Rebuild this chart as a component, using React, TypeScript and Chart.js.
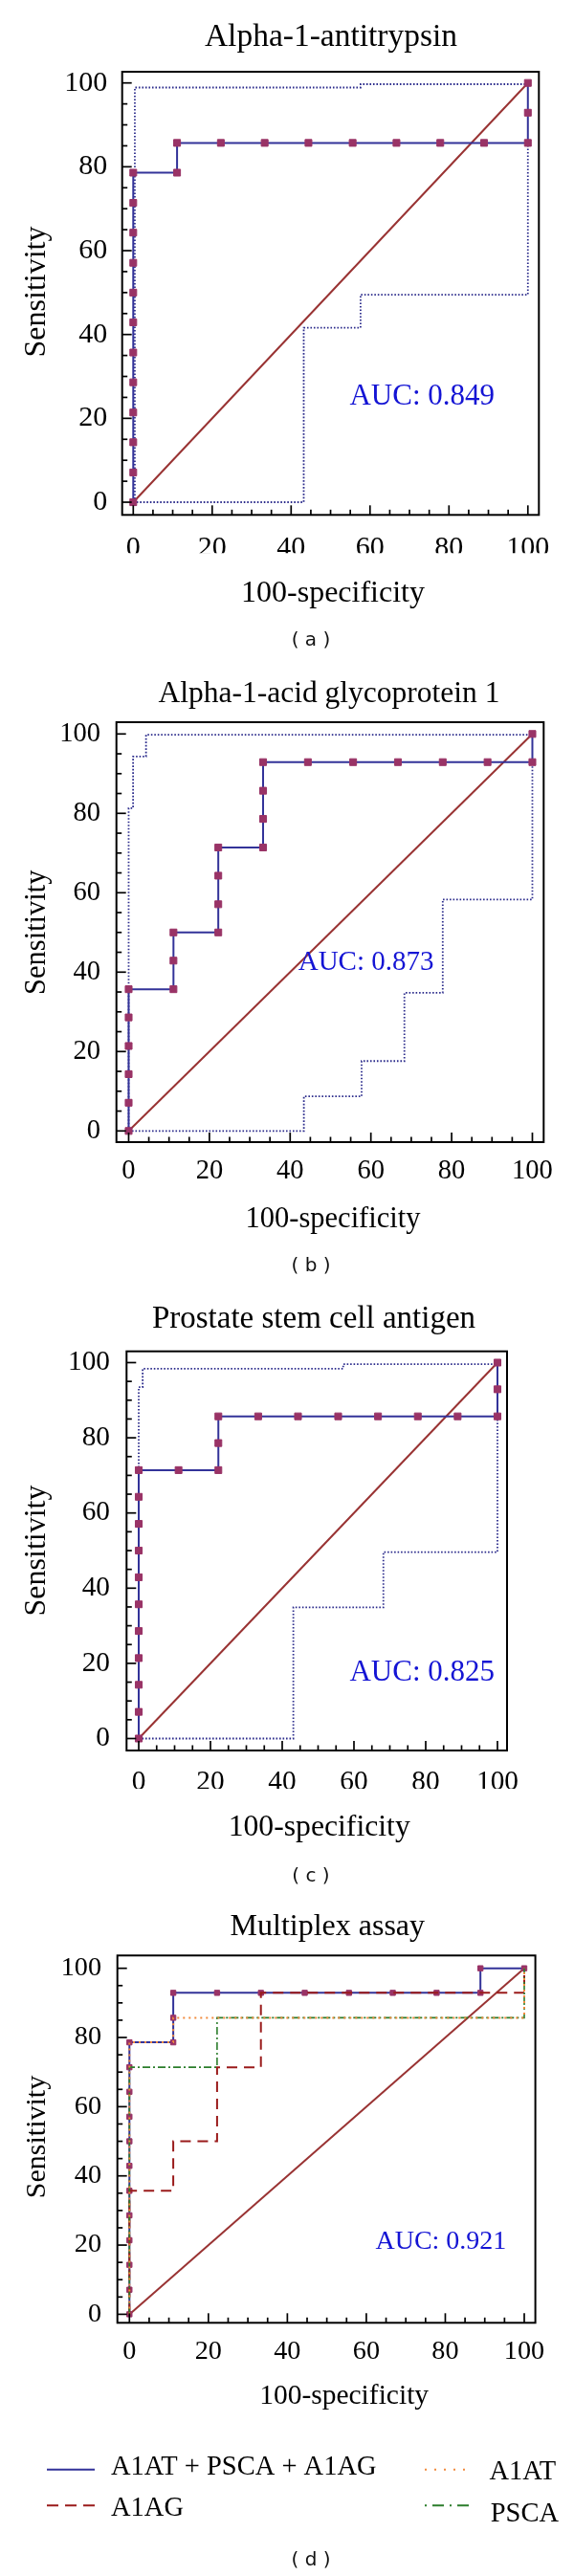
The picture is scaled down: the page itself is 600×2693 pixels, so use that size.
import React, { useEffect, useRef } from 'react';
import { Chart, registerables } from 'chart.js';

Chart.register(...registerables);

// ---------------- data ----------------
const refFpr = [0, 100];
const refSens = [0, 100];

// Alpha-1-antitrypsin (A1AT)
const a1atFpr = [0, 0, 0, 0, 0, 0, 0, 0, 0, 0, 0, 0, 11.1, 11.1, 22.2, 33.3, 44.4, 55.6, 66.7, 77.8, 88.9, 100, 100, 100];
const a1atSens = [0, 7.1, 14.3, 21.4, 28.6, 35.7, 42.9, 50, 57.1, 64.3, 71.4, 78.6, 78.6, 85.7, 85.7, 85.7, 85.7, 85.7, 85.7, 85.7, 85.7, 85.7, 92.9, 100];
const a1atUpperFpr = [0.4, 0.4, 57.6, 57.6, 100];
const a1atUpperSens = [0, 98.9, 98.9, 99.7, 99.7];
const a1atLowerFpr = [0, 43.2, 43.2, 57.6, 57.6, 100, 100];
const a1atLowerSens = [0, 0, 41.6, 41.6, 49.5, 49.5, 85.7];

// Alpha-1-acid glycoprotein 1 (A1AG)
const a1agFpr = [0, 0, 0, 0, 0, 0, 11.1, 11.1, 11.1, 22.2, 22.2, 22.2, 22.2, 33.3, 33.3, 33.3, 33.3, 44.4, 55.6, 66.7, 77.8, 88.9, 100, 100];
const a1agSens = [0, 7.1, 14.3, 21.4, 28.6, 35.7, 35.7, 42.9, 50, 50, 57.1, 64.3, 71.4, 71.4, 78.6, 85.7, 92.9, 92.9, 92.9, 92.9, 92.9, 92.9, 92.9, 100];
const a1agUpperFpr = [0, 0, 1.1, 1.1, 4.3, 4.3, 100];
const a1agUpperSens = [0, 81.3, 81.3, 94.3, 94.3, 99.8, 99.8];
const a1agLowerFpr = [0, 43.4, 43.4, 57.7, 57.7, 68.3, 68.3, 77.8, 77.8, 100, 100];
const a1agLowerSens = [0, 0, 8.7, 8.7, 17.6, 17.6, 34.8, 34.8, 58.3, 58.3, 92.9];

// Prostate stem cell antigen (PSCA)
const pscaFpr = [0, 0, 0, 0, 0, 0, 0, 0, 0, 0, 0, 11.1, 22.2, 22.2, 22.2, 33.3, 44.4, 55.6, 66.7, 77.8, 88.9, 100, 100, 100];
const pscaSens = [0, 7.1, 14.3, 21.4, 28.6, 35.7, 42.9, 50, 57.1, 64.3, 71.4, 71.4, 71.4, 78.6, 85.7, 85.7, 85.7, 85.7, 85.7, 85.7, 85.7, 85.7, 92.9, 100];
const pscaUpperFpr = [0, 0, 1.1, 1.1, 57, 57, 100];
const pscaUpperSens = [0, 93.5, 93.5, 98.4, 98.4, 99.6, 99.6];
const pscaLowerFpr = [0, 43.1, 43.1, 68.2, 68.2, 100, 100];
const pscaLowerSens = [0, 0, 34.9, 34.9, 49.6, 49.6, 85.7];

// Multiplex assay (A1AT + PSCA + A1AG)
const multiFpr = [0, 0, 0, 0, 0, 0, 0, 0, 0, 0, 0, 0, 11.1, 11.1, 11.1, 22.2, 33.3, 44.4, 55.6, 66.7, 77.8, 88.9, 88.9, 100];
const multiSens = [0, 7.1, 14.3, 21.4, 28.6, 35.7, 42.9, 50, 57.1, 64.3, 71.4, 78.6, 78.6, 85.7, 92.9, 92.9, 92.9, 92.9, 92.9, 92.9, 92.9, 92.9, 100, 100];

const panelTitles = ['Alpha-1-antitrypsin', 'Alpha-1-acid glycoprotein 1', 'Prostate stem cell antigen', 'Multiplex assay'];
const aucLabels = ['AUC: 0.849', 'AUC: 0.873', 'AUC: 0.825', 'AUC: 0.921'];
const subLabels = ['( a )', '( b )', '( c )', '( d )'];
const legendLabels = ['A1AT + PSCA + A1AG', 'A1AG', 'A1AT', 'PSCA'];

// ---------------- styles ----------------
const SERIF = '"Liberation Serif", "Times New Roman", serif';
const SANS = '"DejaVu Sans", sans-serif';
const NAVY = '#333399';
const MARKER = '#993366';
const DIAG = '#993333';
const BAND = '#2c2c8c';
const AUC_BLUE = '#1414d4';
const ORANGE = '#f28a3c';
const RED = '#9a1b1b';
const GREEN = '#2b7d2b';

type Series = {
  label: string;
  xs: number[];
  ys: number[];
  color: string;
  width: number;
  dash?: number[];
  marker?: number;
};

type LegendItem = { label: string; color: string; dash: number[]; x1: number; x2: number; yLine: number; textX: number; textY: number };

type Panel = {
  top: number;
  height: number;
  area: { l: number; t: number; r: number; b: number };
  xRange: [number, number];
  yRange: [number, number];
  tickFont: number;
  xTickPad: number;
  yTickPad: number;
  title: string;
  titleFont: number;
  titleX: number;
  titleY: number;
  xTitleX: number;
  xTitleY: number;
  xTitleFont: number;
  yTitleX: number;
  yTitleY: number;
  yTitleFont: number;
  auc: string;
  aucFont: number;
  aucAt: [number, number];
  sub: string;
  subY: number;
  series: Series[];
  legend?: LegendItem[];
};

function rocSet(xs: number[], ys: number[], up: [number[], number[]], lo: [number[], number[]]): Series[] {
  return [
    { label: 'ROC', xs, ys, color: NAVY, width: 2, marker: 5 },
    { label: 'Upper 95% CI', xs: up[0], ys: up[1], color: BAND, width: 1.8, dash: [1.6, 1.9] },
    { label: 'Lower 95% CI', xs: lo[0], ys: lo[1], color: BAND, width: 1.8, dash: [1.6, 1.9] },
    { label: 'Reference', xs: refFpr, ys: refSens, color: DIAG, width: 2 },
  ];
}

const panels: Panel[] = [
  {
    top: 0, height: 690,
    area: { l: 127.7, t: 75, r: 563.3, b: 538.3 },
    xRange: [-2.81, 102.79], yRange: [-3.03, 102.67],
    tickFont: 30, xTickPad: 16.5, yTickPad: 15.4,
    title: panelTitles[0], titleFont: 33.5, titleX: 346, titleY: 48.4,
    xTitleX: 348, xTitleY: 628.5, xTitleFont: 32,
    yTitleX: 47, yTitleY: 305, yTitleFont: 32,
    auc: aucLabels[0], aucFont: 31, aucAt: [73.2, 23.3],
    sub: subLabels[0], subY: 670,
    series: rocSet(a1atFpr, a1atSens, [a1atUpperFpr, a1atUpperSens], [a1atLowerFpr, a1atLowerSens]),
  },
  {
    top: 690, height: 660,
    area: { l: 121.7, t: 65, r: 568.3, b: 504 },
    xRange: [-3.03, 102.8], yRange: [-2.82, 102.96],
    tickFont: 28.5, xTickPad: 13.4, yTickPad: 16.7,
    title: panelTitles[1], titleFont: 31.5, titleX: 344, titleY: 43.5,
    xTitleX: 348, xTitleY: 592.8, xTitleFont: 30.5,
    yTitleX: 47, yTitleY: 284.7, yTitleFont: 30.5,
    auc: aucLabels[1], aucFont: 29, aucAt: [58.8, 40.6],
    sub: subLabels[1], subY: 634,
    series: rocSet(a1agFpr, a1agSens, [a1agUpperFpr, a1agUpperSens], [a1agLowerFpr, a1agLowerSens]),
  },
  {
    top: 1350, height: 635,
    area: { l: 132.3, t: 62.7, r: 530, b: 480 },
    xRange: [-3.39, 102.67], yRange: [-3.18, 103.0],
    tickFont: 29.3, xTickPad: 15.4, yTickPad: 17.3,
    title: panelTitles[2], titleFont: 33, titleX: 328, titleY: 37.5,
    xTitleX: 333.7, xTitleY: 569, xTitleFont: 31.7,
    yTitleX: 47, yTitleY: 271, yTitleFont: 32,
    auc: aucLabels[2], aucFont: 31, aucAt: [79.0, 15.4],
    sub: subLabels[2], subY: 611.4,
    series: rocSet(pscaFpr, pscaSens, [pscaUpperFpr, pscaUpperSens], [pscaLowerFpr, pscaLowerSens]),
  },
  {
    top: 1985, height: 708,
    area: { l: 122.7, t: 59.3, r: 559.6, b: 443.3 },
    xRange: [-3.05, 102.81], yRange: [-2.46, 103.7],
    tickFont: 28.2, xTickPad: 13.8, yTickPad: 16.7,
    title: panelTitles[3], titleFont: 32, titleX: 342.3, titleY: 38,
    xTitleX: 359.6, xTitleY: 528.3, xTitleFont: 29.5,
    yTitleX: 47, yTitleY: 249, yTitleFont: 30,
    auc: aucLabels[3], aucFont: 28, aucAt: [78.9, 18.8],
    sub: subLabels[3], subY: 691.7,
    series: [
      { label: legendLabels[2], xs: a1atFpr, ys: a1atSens, color: ORANGE, width: 2, dash: [2, 4] },
      { label: legendLabels[3], xs: pscaFpr, ys: pscaSens, color: GREEN, width: 1.6, dash: [8, 3, 2, 3] },
      { label: legendLabels[1], xs: a1agFpr, ys: a1agSens, color: RED, width: 2, dash: [11, 7] },
      { label: legendLabels[0], xs: multiFpr, ys: multiSens, color: NAVY, width: 2, marker: 3.8 },
      { label: 'Reference', xs: refFpr, ys: refSens, color: DIAG, width: 2 },
    ],
    legend: [
      { label: legendLabels[0], color: NAVY, dash: [], x1: 49, x2: 99, yLine: 596.7, textX: 116, textY: 602.3 },
      { label: legendLabels[1], color: RED, dash: [12, 7], x1: 49, x2: 99, yLine: 634.3, textX: 116, textY: 645 },
      { label: legendLabels[2], color: ORANGE, dash: [2, 8], x1: 444, x2: 494, yLine: 596.7, textX: 511.5, textY: 606.7 },
      { label: legendLabels[3], color: GREEN, dash: [2, 6, 12, 6], x1: 444, x2: 494, yLine: 634.3, textX: 512.7, textY: 651 },
    ],
  },
];

function makeDecor(p: Panel) {
  return {
    id: 'decor',
    afterDraw(chart: any) {
      const { ctx, chartArea: ca, scales } = chart;
      const xs = scales.x;
      const ys = scales.y;
      ctx.save();
      // frame
      ctx.strokeStyle = '#000';
      ctx.lineWidth = 2;
      ctx.setLineDash([]);
      ctx.strokeRect(ca.left, ca.top, ca.right - ca.left, ca.bottom - ca.top);
      // inward tick marks
      ctx.lineWidth = 1.7;
      for (let v = 0; v <= 100; v += 5) {
        const len = v % 20 === 0 ? 10 : 5.5;
        const px = xs.getPixelForValue(v);
        ctx.beginPath();
        ctx.moveTo(px, ca.bottom);
        ctx.lineTo(px, ca.bottom - len);
        ctx.stroke();
        const py = ys.getPixelForValue(v);
        ctx.beginPath();
        ctx.moveTo(ca.left, py);
        ctx.lineTo(ca.left + len, py);
        ctx.stroke();
      }
      // texts
      ctx.fillStyle = '#000';
      ctx.textAlign = 'center';
      ctx.textBaseline = 'alphabetic';
      ctx.font = `${p.titleFont}px ${SERIF}`;
      ctx.fillText(p.title, p.titleX, p.titleY);
      ctx.font = `${p.xTitleFont}px ${SERIF}`;
      ctx.fillText('100-specificity', p.xTitleX, p.xTitleY);
      ctx.save();
      ctx.translate(p.yTitleX, p.yTitleY);
      ctx.rotate(-Math.PI / 2);
      ctx.font = `${p.yTitleFont}px ${SERIF}`;
      ctx.fillText('Sensitivity', 0, 0);
      ctx.restore();
      // AUC annotation at data coordinates
      ctx.fillStyle = AUC_BLUE;
      ctx.font = `${p.aucFont}px ${SERIF}`;
      ctx.fillText(p.auc, xs.getPixelForValue(p.aucAt[0]), ys.getPixelForValue(p.aucAt[1]));
      // sub label
      ctx.fillStyle = '#111';
      ctx.font = `20px ${SANS}`;
      ctx.textBaseline = 'middle';
      ctx.fillText(p.sub, 325, p.subY);
      // legend
      if (p.legend) {
        ctx.textAlign = 'left';
        ctx.textBaseline = 'alphabetic';
        for (const it of p.legend) {
          ctx.strokeStyle = it.color;
          ctx.lineWidth = 2;
          ctx.setLineDash(it.dash);
          ctx.beginPath();
          ctx.moveTo(it.x1, it.yLine);
          ctx.lineTo(it.x2, it.yLine);
          ctx.stroke();
          ctx.setLineDash([]);
          ctx.fillStyle = '#000';
          ctx.font = `28.5px ${SERIF}`;
          ctx.fillText(it.label, it.textX, it.textY);
        }
      }
      ctx.restore();
    },
  };
}

function buildConfig(p: Panel): any {
  const axisCommon = (pad: number) => ({
    type: 'linear',
    grid: { display: false, drawTicks: false },
    border: { display: false },
    ticks: {
      stepSize: 20,
      includeBounds: false,
      padding: pad,
      color: '#000',
      autoSkip: false,
      maxRotation: 0,
      font: { family: SERIF, size: p.tickFont },
    },
  });
  return {
    type: 'line',
    data: {
      datasets: p.series.map((s) => ({
        label: s.label,
        data: s.xs.map((x, i) => ({ x, y: s.ys[i] })),
        borderColor: s.color,
        borderWidth: s.width,
        borderDash: s.dash || [],
        pointStyle: 'rect',
        pointRadius: s.marker ? s.marker : 0,
        pointHoverRadius: s.marker ? s.marker : 0,
        pointBackgroundColor: MARKER,
        pointBorderColor: MARKER,
        pointBorderWidth: 1,
        tension: 0,
        fill: false,
      })),
    },
    options: {
      responsive: false,
      animation: false,
      events: [],
      layout: {
        padding: { left: 0, top: p.area.t, right: 600 - p.area.r, bottom: p.height - p.area.b - 40 },
      },
      plugins: {
        legend: { display: false },
        tooltip: { enabled: false },
        title: { display: false },
      },
      scales: {
        x: {
          ...axisCommon(p.xTickPad),
          position: 'bottom',
          min: p.xRange[0],
          max: p.xRange[1],
          afterFit: (s: any) => {
            s.height = 40;
          },
        },
        y: {
          ...axisCommon(p.yTickPad),
          position: 'left',
          min: p.yRange[0],
          max: p.yRange[1],
          afterFit: (s: any) => {
            s.width = p.area.l;
          },
        },
      },
    },
    plugins: [makeDecor(p)],
  };
}

function PanelChart({ p }: { p: Panel }) {
  const ref = useRef<HTMLCanvasElement>(null);
  useEffect(() => {
    if (!ref.current) return;
    const chart = new Chart(ref.current, buildConfig(p));
    return () => chart.destroy();
  }, [p]);
  return (
    <canvas
      ref={ref}
      width={600}
      height={p.height}
      style={{ position: 'absolute', left: 0, top: p.top, width: 600, height: p.height }}
    />
  );
}

export default function App() {
  return (
    <div style={{ position: 'absolute', left: 0, top: 0, width: 600, height: 2693, background: '#fff', overflow: 'hidden' }}>
      {panels.map((p, i) => (
        <PanelChart key={i} p={p} />
      ))}
    </div>
  );
}
